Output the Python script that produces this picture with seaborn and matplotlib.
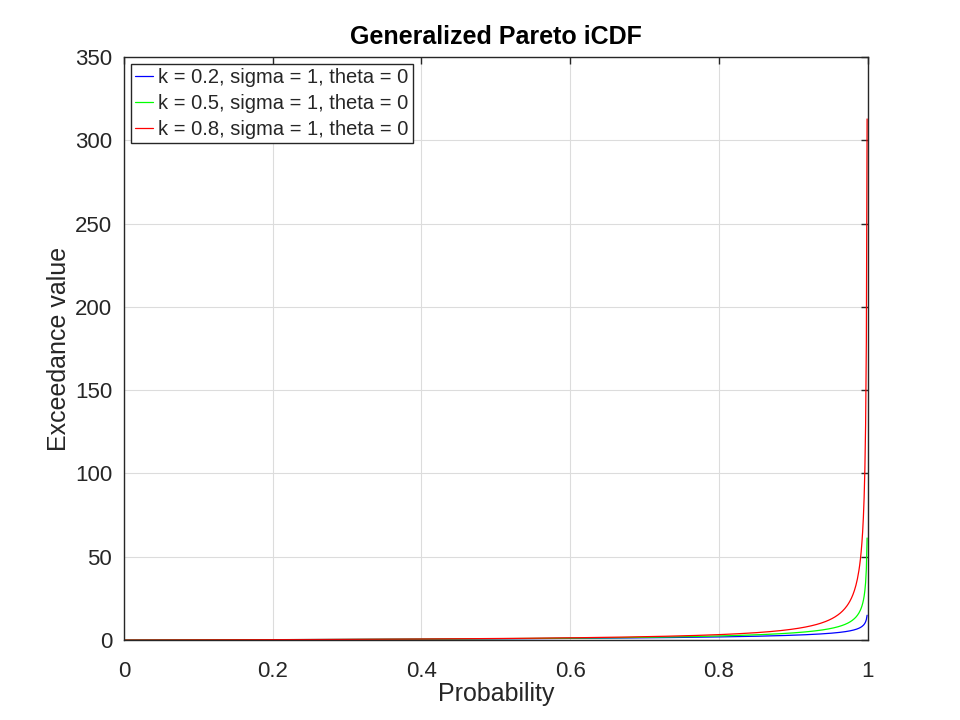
import numpy as np
import pandas as pd
import seaborn as sns
import matplotlib
matplotlib.use("Agg")
import matplotlib.pyplot as plt

# distribution parameters shown in the legend
k_values = [0.2, 0.5, 0.8]
sigma = 1
theta = 0
line_colors = ["#0000ff", "#00ff00", "#ff0000"]
prob_step = 0.001

x_ticks = [0, 0.2, 0.4, 0.6, 0.8, 1]
y_ticks = [0, 50, 100, 150, 200, 250, 300, 350]

p = np.arange(0, 1 + prob_step / 2, prob_step)
frames = []
for k in k_values:
    with np.errstate(divide="ignore"):
        x = theta + sigma / k * ((1 - p) ** (-k) - 1)
    x[~np.isfinite(x)] = np.nan
    frames.append(pd.DataFrame({
        "Probability": p,
        "value": x,
        "label": f"k = {k}, sigma = {sigma}, theta = {theta}",
    }))
df = pd.concat(frames, ignore_index=True)

sns.set_style("whitegrid")
plt.rcParams["font.family"] = ["Liberation Sans", "DejaVu Sans"]

fig = plt.figure(figsize=(9.6, 7.2), dpi=100)
ax = fig.add_axes([0.129, 0.111, 0.775, 0.810])

sns.lineplot(data=df, x="Probability", y="value", hue="label",
             palette=line_colors, linewidth=0.9, ax=ax, estimator=None,
             sort=False)

ax.set_xlim(0, 1)
ax.set_ylim(0, 350)
ax.set_xticks(x_ticks)
ax.set_xticklabels(["0", "0.2", "0.4", "0.6", "0.8", "1"])
ax.set_yticks(y_ticks)
ax.tick_params(direction="in", length=5, width=1, colors="#262626",
               labelsize=16, top=True, right=True, pad=8.5)
ax.tick_params(axis="x", pad=15)
ax.grid(True, color="#dcdcdc", linewidth=0.8)
for s in ax.spines.values():
    s.set_visible(True)
    s.set_color("#262626")
    s.set_linewidth(1)

ax.set_xlabel("Probability", fontsize=18, labelpad=0, color="#262626")
ax.set_ylabel("Exceedance value", fontsize=18, labelpad=3, color="#262626")
ax.set_title("Generalized Pareto iCDF", fontsize=18, fontweight="bold",
             pad=9.5, color="black")

leg = ax.legend(loc="upper left", fontsize=14.5, frameon=True, fancybox=False,
                handlelength=0.9, handletextpad=0.25, borderpad=0.22,
                labelspacing=0.33, borderaxespad=0.35)
leg.get_frame().set_edgecolor("#262626")
leg.get_frame().set_linewidth(1)
leg.get_frame().set_alpha(1)

fig.savefig("out.png", dpi=100)
